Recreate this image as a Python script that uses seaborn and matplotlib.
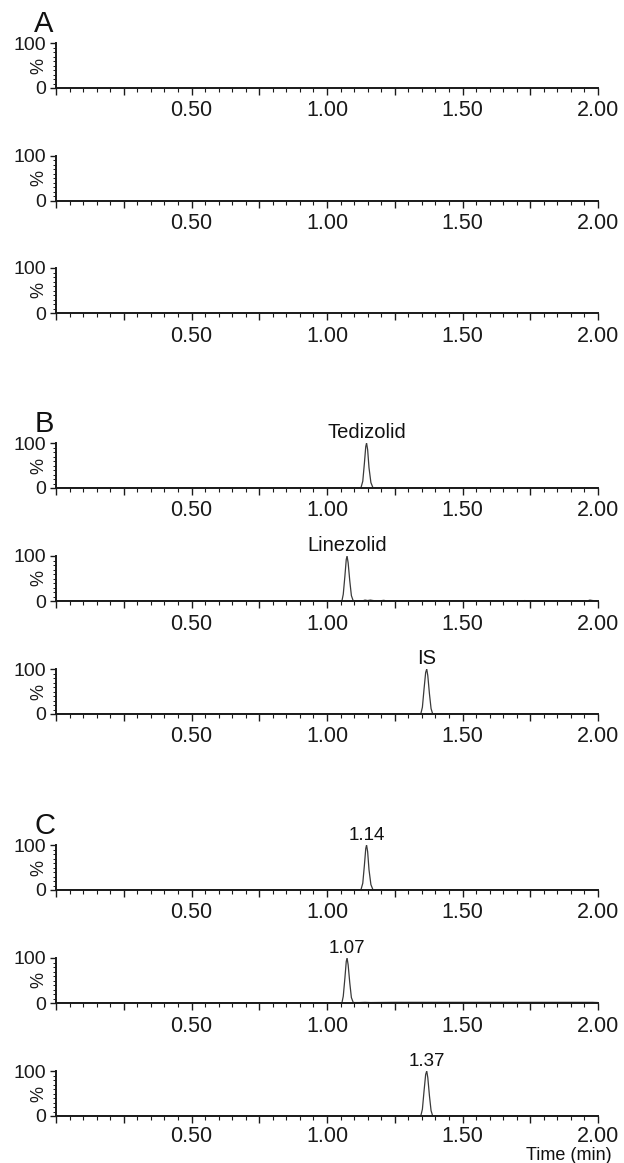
import matplotlib
matplotlib.use("Agg")
import matplotlib.pyplot as plt
import seaborn as sns
import numpy as np
import pandas as pd
from matplotlib.ticker import MultipleLocator, FixedLocator, FuncFormatter

# ---------------- data ----------------
group_letters = ["A", "B", "C"]

# Group A: blank samples (flat baselines)
a1_time = [0.0, 2.0]
a1_int = [0, 0]
a2_time = [0.0, 2.0]
a2_int = [0, 0]
a3_time = [0.0, 2.0]
a3_int = [0, 0]

# Group B: standards
b1_time = [0.0, 1.125, 1.132, 1.138, 1.143, 1.146, 1.150, 1.155, 1.162, 1.170, 2.0]
b1_int = [0, 0, 15, 55, 92, 100, 85, 45, 12, 0, 0]
b2_time = [0.0, 1.055, 1.060, 1.066, 1.071, 1.074, 1.078, 1.084, 1.090, 1.097,
           1.13, 1.14, 1.15, 1.16, 1.17, 1.19, 1.21, 1.22, 1.24, 1.72, 1.73, 1.74,
           1.96, 1.97, 1.98, 2.0]
b2_int = [0, 0, 15, 55, 92, 100, 85, 45, 12, 0,
          0, 2, 1, 2, 1, 0, 1.5, 0, 0, 0, 1, 0,
          0, 2, 1, 0]
b3_time = [0.0, 1.346, 1.352, 1.358, 1.364, 1.368, 1.372, 1.378, 1.384, 1.390, 2.0]
b3_int = [0, 0, 15, 55, 92, 100, 85, 45, 12, 0, 0]

# Group C: samples
c1_time = [0.0, 1.125, 1.132, 1.138, 1.143, 1.146, 1.150, 1.155, 1.162, 1.170, 2.0]
c1_int = [0, 0, 15, 55, 92, 100, 85, 45, 12, 0, 0]
c2_time = [0.0, 1.055, 1.060, 1.066, 1.071, 1.074, 1.078, 1.084, 1.090, 1.097,
           1.12, 1.14, 1.16, 1.25, 1.50, 1.75, 1.98, 2.0]
c2_int = [0, 0, 15, 55, 92, 100, 85, 45, 12, 1,
          1, 1.5, 1, 1.5, 1.5, 1.5, 1.5, 1]
c3_time = [0.0, 1.346, 1.352, 1.358, 1.364, 1.368, 1.372, 1.378, 1.384, 1.390, 2.0]
c3_int = [0, 0, 15, 55, 92, 100, 85, 45, 12, 0, 0]

b_labels = ["Tedizolid", "Linezolid", "IS"]
c_labels = ["1.14", "1.07", "1.37"]
b_label_x = [1.146, 1.074, 1.368]
c_label_x = [1.146, 1.074, 1.368]

x_tick_labels = ["0.50", "1.00", "1.50", "2.00"]
x_tick_values = [0.5, 1.0, 1.5, 2.0]

traces = [
    (a1_time, a1_int, None, None, "A"),
    (a2_time, a2_int, None, None, None),
    (a3_time, a3_int, None, None, None),
    (b1_time, b1_int, b_labels[0], b_label_x[0], "B"),
    (b2_time, b2_int, b_labels[1], b_label_x[1], None),
    (b3_time, b3_int, b_labels[2], b_label_x[2], None),
    (c1_time, c1_int, c_labels[0], c_label_x[0], "C"),
    (c2_time, c2_int, c_labels[1], c_label_x[1], None),
    (c3_time, c3_int, c_labels[2], c_label_x[2], None),
]

# ---------------- layout ----------------
sns.set_style("ticks")
plt.rcParams["font.family"] = ["Liberation Sans", "DejaVu Sans"]

W, H = 624, 1163
fig = plt.figure(figsize=(W / 100, H / 100), dpi=100)

baselines = [88, 200.5, 313, 488, 601, 714, 890, 1003, 1116]
left_px, right_px = 56, 598
height_px = 45

for i, (t, y, lab, labx, letter) in enumerate(traces):
    base = baselines[i]
    ax = fig.add_axes([left_px / W, (H - base) / H, (right_px - left_px) / W, height_px / H])
    df = pd.DataFrame({"time": t, "intensity": y})
    sns.lineplot(data=df, x="time", y="intensity", ax=ax, color="#3a3a3a",
                 linewidth=0.9, estimator=None, sort=False)
    ax.set_xlim(0, 2.0)
    ax.set_ylim(0, 100)
    ax.set_xlabel("")
    ax.set_ylabel("")
    for s in ["top", "right"]:
        ax.spines[s].set_visible(False)
    for s in ["left", "bottom"]:
        ax.spines[s].set_linewidth(1.4)
        ax.spines[s].set_color("#1a1a1a")

    ax.xaxis.set_major_locator(MultipleLocator(0.25))
    ax.xaxis.set_minor_locator(MultipleLocator(0.05))
    ax.xaxis.set_major_formatter(FuncFormatter(
        lambda v, p: x_tick_labels[x_tick_values.index(round(v, 2))] if round(v, 2) in x_tick_values else ""))
    ax.tick_params(axis="x", which="major", length=5, width=1.0,
                   pad=4 if i < 8 else 2.5,
                   labelsize=15.5, colors="#1a1a1a")
    ax.tick_params(axis="x", which="minor", length=3, width=0.8, colors="#1a1a1a")

    ax.yaxis.set_major_locator(FixedLocator([0, 100]))
    ax.yaxis.set_minor_locator(MultipleLocator(10))
    ax.yaxis.set_major_formatter(FuncFormatter(lambda v, p: f"{int(v)}"))
    ax.tick_params(axis="y", which="major", length=4, width=1.0, pad=3,
                   labelsize=14, colors="#1a1a1a")
    ax.tick_params(axis="y", which="minor", length=2.5, width=0.7, colors="#1a1a1a")

    ax.text(-0.031, 0.5, "%", transform=ax.transAxes, rotation=90,
            ha="center", va="center", fontsize=13, color="#1a1a1a")

    if lab is not None:
        ax.text(labx, 103, lab, ha="center", va="bottom",
                fontsize=14.5 if i < 6 else 13.5, color="#111111", clip_on=False)
    if letter is not None:
        ax.text(-0.04, 1.10, letter, transform=ax.transAxes, ha="left",
                va="bottom", fontsize=21, color="#111111")

fig.text(612 / W, 1 - 1160 / H, "Time (min)", ha="right", va="baseline",
         fontsize=13, color="#111111")

fig.savefig("out.png", dpi=100)
